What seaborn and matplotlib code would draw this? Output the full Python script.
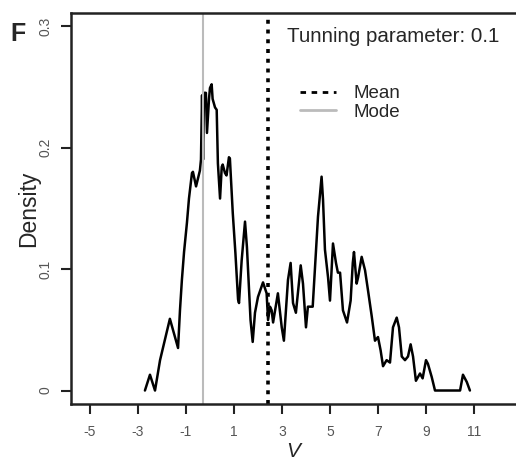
import matplotlib
matplotlib.use("Agg")
import matplotlib.pyplot as plt
from matplotlib.lines import Line2D
import seaborn as sns
import pandas as pd

# ── data ────────────────────────────────────────────────────────────────
v_vals = [
    -2.71, -2.5, -2.29, -2.08, -1.67, -1.33, -1.25, -1.17, -1.08, -0.96,
    -0.875, -0.75, -0.71, -0.58, -0.42, -0.375, -0.33, -0.29, -0.25, -0.17,
    -0.125, -0.04, 0.0, 0.07, 0.11, 0.21, 0.28, 0.33, 0.42, 0.49,
    0.53, 0.625, 0.69, 0.79, 0.83, 0.95, 1.06, 1.17, 1.21, 1.32,
    1.46, 1.54, 1.69, 1.78, 1.875, 2.0, 2.21, 2.36, 2.42, 2.5,
    2.57, 2.63, 2.83, 2.99, 3.08, 3.25, 3.36, 3.46, 3.58, 3.78,
    3.875, 4.0, 4.08, 4.28, 4.42, 4.5, 4.65, 4.71, 4.79, 4.92,
    5.0, 5.125, 5.25, 5.33, 5.42, 5.54, 5.71, 5.86, 5.95, 6.0,
    6.11, 6.17, 6.32, 6.46, 6.58, 6.74, 6.875, 7.0, 7.11, 7.21,
    7.36, 7.5, 7.625, 7.78, 7.875, 7.99, 8.125, 8.25, 8.36, 8.46,
    8.58, 8.75, 8.86, 9.0, 9.08, 9.24, 9.375, 10.42, 10.54, 10.7,
    10.83,
]
density_vals = [
    0.0, 0.013, 0.0, 0.025, 0.059, 0.035, 0.066, 0.091, 0.114, 0.138,
    0.158, 0.179, 0.18, 0.168, 0.181, 0.19, 0.243, 0.19, 0.245, 0.245,
    0.212, 0.24, 0.249, 0.252, 0.24, 0.233, 0.231, 0.187, 0.158, 0.184,
    0.186, 0.179, 0.177, 0.192, 0.191, 0.146, 0.113, 0.075, 0.072, 0.107,
    0.139, 0.118, 0.058, 0.040, 0.064, 0.077, 0.089, 0.080, 0.058, 0.069,
    0.066, 0.056, 0.080, 0.052, 0.041, 0.091, 0.105, 0.072, 0.064, 0.103,
    0.088, 0.052, 0.069, 0.069, 0.116, 0.143, 0.176, 0.157, 0.116, 0.093,
    0.074, 0.121, 0.105, 0.097, 0.097, 0.066, 0.056, 0.074, 0.105, 0.114,
    0.088, 0.093, 0.110, 0.099, 0.083, 0.061, 0.041, 0.044, 0.033, 0.020,
    0.025, 0.023, 0.052, 0.060, 0.052, 0.028, 0.025, 0.028, 0.038, 0.028,
    0.008, 0.014, 0.010, 0.025, 0.022, 0.011, 0.0, 0.0, 0.013, 0.007,
    0.0,
]
mean_v = 2.42
mode_v = -0.29
x_ticks = [-5, -3, -1, 1, 3, 5, 7, 9, 11]
y_ticks = [0, 0.1, 0.2, 0.3]
y_ticklabels = ["0", "0.1", "0.2", "0.3"]

# ── style ──────────────────────────────────────────────────────────────
sns.set_style("ticks")
plt.rcParams["font.family"] = ["Liberation Sans", "DejaVu Sans"]
plt.rcParams["axes.unicode_minus"] = False

fig = plt.figure(figsize=(5.16, 4.67), dpi=100)
ax = fig.add_axes([71 / 516, 63 / 467, 1 - 71 / 516, 391 / 467])

df = pd.DataFrame({"V": v_vals, "Density": density_vals})
sns.lineplot(data=df, x="V", y="Density", color="black", lw=1.8,
             estimator=None, sort=False, ax=ax)

ax.axvline(mode_v, color="#bbbbbb", lw=1.5)
ax.axvline(mean_v, color="black", lw=2.6, linestyle=(0, (1.1, 1.6)))

ax.set_xlim(-5.79, 12.75)
ax.set_ylim(-0.0111, 0.3107)
ax.set_xticks(x_ticks)
ax.set_yticks(y_ticks)
ax.set_yticklabels(y_ticklabels, rotation=90, va="center")
ax.tick_params(axis="both", length=7, width=1.5, labelsize=10,
               labelcolor="#555555", color="#222222")
ax.tick_params(axis="y", pad=6)
ax.tick_params(axis="x", pad=8)

for side in ["left", "bottom", "top"]:
    ax.spines[side].set_linewidth(1.8)
    ax.spines[side].set_color("#222222")
ax.spines["right"].set_visible(False)

ax.set_xlabel("V", fontsize=15, style="italic", labelpad=2)
ax.set_ylabel("Density", fontsize=16.5, labelpad=-1)

fig.text(10 / 516, 1 - 34 / 467, "F", fontsize=18, fontweight="bold",
         va="center", ha="left")

fig.text(287 / 516, 1 - 37 / 467, "Tunning parameter: 0.1", fontsize=14.8,
         va="center", ha="left")

handles = [
    Line2D([], [], color="black", lw=2, linestyle=(0, (2, 2))),
    Line2D([], [], color="#bbbbbb", lw=2),
]
fig.legend(handles, ["Mean", "Mode"], loc="upper left",
           bbox_to_anchor=(291 / 516, 1 - 76 / 467), frameon=False,
           fontsize=13.5, handlelength=1.9, handletextpad=0.95,
           labelspacing=0.05, borderpad=0)

fig.savefig("out.png", dpi=100)
